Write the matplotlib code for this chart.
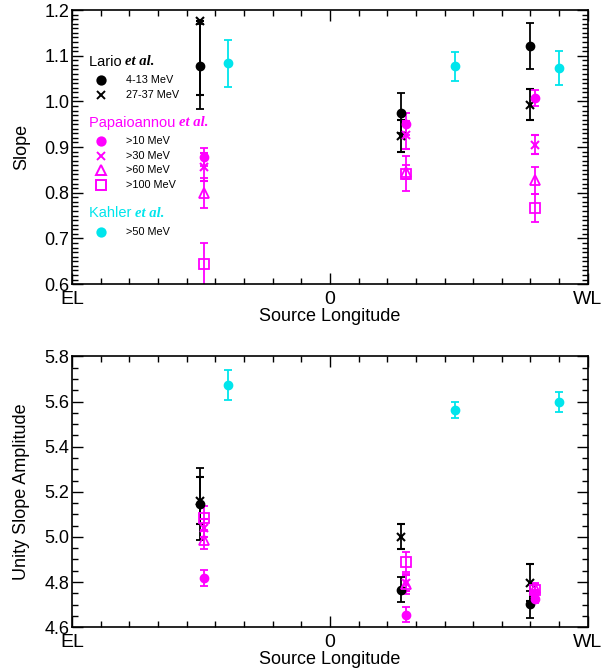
import numpy as np
import matplotlib
matplotlib.use("Agg")
import matplotlib.pyplot as plt
from matplotlib.ticker import MultipleLocator, FixedLocator, FixedFormatter

plt.rcParams['font.family'] = ['Liberation Sans', 'DejaVu Sans']
plt.rcParams['font.size'] = 13

# longitudes of the three events (deg, EL=-90 .. WL=90)
lario_lon = [-45.5, 24.7, 69.8]
papa_lon = [-43.8, 26.5, 71.7]
kahler_lon = [-35.7, 43.6, 79.8]

# --- slope ---
slope_l413 = [1.077, 0.975, 1.121]
slope_l413_err = [0.093, 0.044, 0.051]
slope_l2737 = [1.175, 0.924, 0.993]
slope_l2737_lo = [0.160, 0.035, 0.034]
slope_l2737_hi = [0.0, 0.035, 0.034]
slope_p10 = [0.878, 0.951, 1.008]
slope_p10_err = [0.020, 0.024, 0.018]
slope_p30 = [0.856, 0.926, 0.905]
slope_p30_err = [0.030, 0.030, 0.021]
slope_p60 = [0.800, 0.845, 0.827]
slope_p60_err = [0.033, 0.015, 0.029]
slope_p100 = [0.643, 0.842, 0.767]
slope_p100_err = [0.047, 0.038, 0.031]
slope_k50 = [1.083, 1.077, 1.073]
slope_k50_err = [0.052, 0.032, 0.037]

# --- unity slope amplitude ---
amp_l413 = [5.147, 4.766, 4.702]
amp_l413_err = [0.160, 0.056, 0.060]
amp_l2737 = [5.161, 5.000, 4.797]
amp_l2737_err = [0.106, 0.055, 0.083]
amp_p10 = [4.818, 4.654, 4.725]
amp_p10_err = [0.035, 0.033, 0.020]
amp_p30 = [5.040, 4.795, 4.745]
amp_p30_err = [0.040, 0.035, 0.020]
amp_p60 = [4.987, 4.792, 4.775]
amp_p60_err = [0.041, 0.044, 0.020]
amp_p100 = [5.084, 4.890, 4.765]
amp_p100_err = [0.052, 0.045, 0.025]
amp_k50 = [5.672, 5.563, 5.598]
amp_k50_err = [0.067, 0.034, 0.043]

MAG = '#FF00FF'
CYA = '#00E5EC'
ekw = dict(ls='none', elinewidth=1.3, capsize=3, capthick=1.3)


def style_axis(ax, ylim, major, minor):
    ax.set_xlim(-90, 90)
    ax.set_ylim(*ylim)
    ax.xaxis.set_major_locator(FixedLocator([-90, 0, 90]))
    ax.xaxis.set_major_formatter(FixedFormatter(['EL', '0', 'WL']))
    ax.xaxis.set_minor_locator(MultipleLocator(10))
    ax.yaxis.set_major_locator(MultipleLocator(major))
    ax.yaxis.set_minor_locator(MultipleLocator(minor))
    ax.tick_params(which='both', direction='in', top=True, right=True, width=1)
    ax.tick_params(which='major', length=8, labelsize=14)
    ax.tick_params(axis='y', which='major', pad=2, labelsize=13)
    ax.tick_params(axis='x', which='major', pad=5)
    ax.tick_params(which='minor', length=4)
    for s in ax.spines.values():
        s.set_linewidth(1.2)
    ax.set_xlabel('Source Longitude', fontsize=13, labelpad=0)


fig = plt.figure(figsize=(6.11, 6.70), dpi=100)
ax1 = fig.add_axes([0.118, 0.576, 0.844, 0.409])
ax2 = fig.add_axes([0.118, 0.064, 0.844, 0.404])

# top panel
ax1.errorbar(lario_lon, slope_l413, yerr=slope_l413_err, fmt='o', color='k', ms=6, **ekw)
ax1.errorbar(lario_lon, slope_l2737, yerr=[slope_l2737_lo, slope_l2737_hi], fmt='x', color='k',
             ms=6, mew=1.5, **ekw)
ax1.errorbar(papa_lon, slope_p10, yerr=slope_p10_err, fmt='o', color=MAG, ms=6, **ekw)
ax1.errorbar(papa_lon, slope_p30, yerr=slope_p30_err, fmt='x', color=MAG, ms=6, mew=1.5, **ekw)
ax1.errorbar(papa_lon, slope_p60, yerr=slope_p60_err, fmt='^', color=MAG, ms=7, mfc='none', mew=1.3, **ekw)
ax1.errorbar(papa_lon, slope_p100, yerr=slope_p100_err, fmt='s', color=MAG, ms=7, mfc='none', mew=1.3, **ekw)
ax1.errorbar(kahler_lon, slope_k50, yerr=slope_k50_err, fmt='o', color=CYA, ms=6, **ekw)
style_axis(ax1, (0.6, 1.2), 0.1, 0.01)
ax1.yaxis.set_major_formatter(plt.FormatStrFormatter('%.1f'))
ax1.set_ylabel('Slope', fontsize=13, labelpad=10)

# bottom panel
ax2.errorbar(lario_lon, amp_l413, yerr=amp_l413_err, fmt='o', color='k', ms=6, **ekw)
ax2.errorbar(lario_lon, amp_l2737, yerr=amp_l2737_err, fmt='x', color='k', ms=6, mew=1.5, **ekw)
ax2.errorbar(papa_lon, amp_p10, yerr=amp_p10_err, fmt='o', color=MAG, ms=6, **ekw)
ax2.errorbar(papa_lon, amp_p30, yerr=amp_p30_err, fmt='x', color=MAG, ms=6, mew=1.5, **ekw)
ax2.errorbar(papa_lon, amp_p60, yerr=amp_p60_err, fmt='^', color=MAG, ms=7, mfc='none', mew=1.3, **ekw)
ax2.errorbar(papa_lon, amp_p100, yerr=amp_p100_err, fmt='s', color=MAG, ms=7, mfc='none', mew=1.3, **ekw)
ax2.errorbar(kahler_lon, amp_k50, yerr=amp_k50_err, fmt='o', color=CYA, ms=6, **ekw)
style_axis(ax2, (4.6, 5.8), 0.2, 0.05)
ax2.yaxis.set_major_formatter(plt.FormatStrFormatter('%.1f'))
ax2.set_ylabel('Unity Slope Amplitude', fontsize=13, labelpad=10)

# hand-made legend in the top panel
groups = [
    ('Lario', 'k', [('o', '4-13 MeV'), ('x', '27-37 MeV')], 0.811),
    ('Papaioannou', MAG, [('o', '>10 MeV'), ('x', '>30 MeV'), ('^', '>60 MeV'), ('s', '>100 MeV')], 0.589),
    ('Kahler', CYA, [('o', '>50 MeV')], 0.258),
]
row_h = 0.0535
for name, col, entries, ytop in groups:
    t = ax1.text(0.032, ytop, name + ' ', color=col, fontsize=10.5, transform=ax1.transAxes,
                 va='center', ha='left')
    ax1.annotate('et al.', xy=(1, 0.5), xycoords=t, va='center', ha='left', color=col,
                 fontsize=10.5, family='Liberation Serif', weight='bold', style='italic')
    y = ytop - 0.067
    for mk, lab in entries:
        filled = mk in ('o', 'x')
        ax1.plot([0.056], [y], marker=mk, color=col, ms=6 if mk in ('o', 'x') else 7,
                 mfc=col if filled else 'none', mew=1.4, transform=ax1.transAxes, clip_on=False)
        ax1.text(0.105, y, lab, fontsize=7.8, transform=ax1.transAxes, va='center', ha='left')
        y -= row_h

fig.savefig('out.png', dpi=100)
